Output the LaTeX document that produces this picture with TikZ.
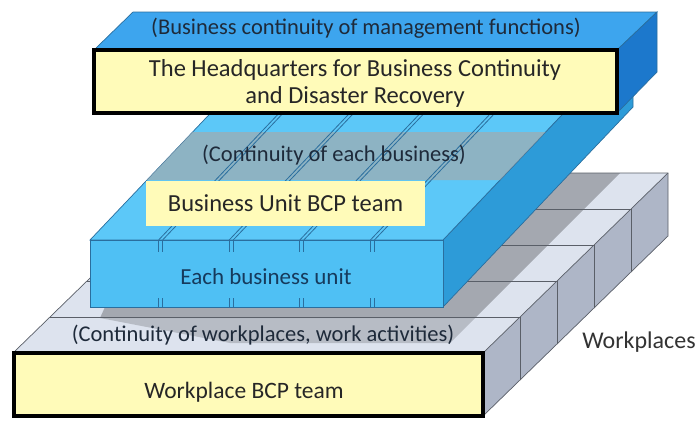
\documentclass[tikz,border=0pt]{standalone}
\usepackage{fontspec}
\setmainfont{Carlito}
\definecolor{hqTop}{HTML}{3DA5EE}
\definecolor{hqSide}{HTML}{1C78CC}
\definecolor{midTop}{HTML}{5CC8F8}
\definecolor{midFront}{HTML}{4FC0F4}
\definecolor{midSide}{HTML}{2D9BD8}
\definecolor{midLine}{HTML}{2A6E9E}
\definecolor{wpTop}{HTML}{DDE3EE}
\definecolor{wpSide}{HTML}{AEB6C7}
\definecolor{wpLine}{HTML}{5A5F68}
\definecolor{yel}{HTML}{FFFBB9}
\definecolor{band}{HTML}{A8A8A8}
\definecolor{txtDark}{HTML}{1E2A3A}
\definecolor{txtBlue}{HTML}{163A5C}
\begin{document}
\begin{tikzpicture}[x=1pt,y=-1pt,
  paren/.style={font=\fontsize{22.5}{27}\selectfont, text=txtDark, inner sep=0pt},
  mainlbl/.style={font=\fontsize{24.5}{27}\selectfont, text=black!85, inner sep=0pt, align=center},
  thinmid/.style={draw=midLine, line width=0.7pt},
  thinwp/.style={draw=wpLine, line width=0.7pt},
  groove/.style={draw=midLine, line width=0.8pt}]
\useasboundingbox (0,0) rectangle (699,421);

% ---------- workplaces (bottom) ----------
\fill[wpTop] (13,353) -- (483,353) -- (668,173) -- (198,173) -- cycle;
\fill[wpSide] (483,353) -- (668,173) -- (668,236) -- (483,416) -- cycle;
% shadow of the business-unit slab
\fill[black, opacity=0.17] (105,307) -- (100,318) -- (230,343) -- (450,343) -- (620,173) -- (300,173) -- cycle;
\fill[black, opacity=0.10] (105,307) -- (100,318) -- (475,318) -- (620,173) -- (300,173) -- cycle;
% block lines
\foreach \k in {0,1,2,3} {
  \draw[thinwp] ({50+37*\k},{317-36*\k}) -- ({520+37*\k},{317-36*\k});
  \draw[thinwp] ({520+37*\k},{317-36*\k}) -- ({520+37*\k},{380-36*\k});
}
\draw[thinwp] (13,353) -- (198,173) -- (668,173) -- (668,236) -- (483,416);
\draw[thinwp] (483,353) -- (668,173);
\node[paren] (wpcont) at (263,335) {(Continuity of workplaces, work activities)};
\draw[line width=3.5pt, fill=yel] (14,353) rectangle (483,416);
\node[font=\fontsize{23.5}{27}\selectfont, text=black!85, inner sep=0pt] (wpteam) at (244,392) {Workplace BCP team};
\node[font=\fontsize{24}{27}\selectfont, text=black!80, inner sep=0pt] (wplaces) at (639,342) {Workplaces};

% ---------- business unit slab (middle) ----------
\filldraw[fill=midSide, thinmid] (443,240) -- (633,40) -- (633,107) -- (443,307) -- cycle;
\filldraw[fill=midTop, thinmid] (90,240) -- (443,240) -- (633,40) -- (280,40) -- cycle;
\fill[band, opacity=0.65] (147,180) -- (500,180) -- (545.6,132) -- (192.6,132) -- cycle;
\foreach \x in {160.6,231.2,301.8,372.4} {
  \draw[groove] ({\x-2},240) -- ({\x-2+0.95*140},100);
  \draw[groove] ({\x+2},240) -- ({\x+2+0.95*140},100);
}
\filldraw[fill=midFront, thinmid] (90,240) rectangle (443,307);
\foreach \x in {160.6,231.2,301.8,372.4} {
  \draw[groove] ({\x-2},240) -- ({\x-2},252);
  \draw[groove] ({\x+2},240) -- ({\x+2},252);
  \draw[groove] ({\x-2},298) -- ({\x-2},307);
  \draw[groove] ({\x+2},298) -- ({\x+2},307);
}
\node[paren] (bucont) at (334,155) {(Continuity of each business)};
\node[fill=yel, minimum width=279pt, minimum height=45pt, inner sep=0pt,
      font=\fontsize{24.5}{27}\selectfont, text=black!85] (buteam) at (285.5,203.5) {Business Unit BCP team};
\node[font=\fontsize{23}{27}\selectfont, text=txtBlue, inner sep=0pt] (eachbu) at (266,277) {Each business unit};

% ---------- headquarters slab (top) ----------
\filldraw[fill=hqTop, draw=midLine, line width=0.7pt] (94,50) -- (617,50) -- (657,12) -- (133,12) -- cycle;
\filldraw[fill=hqSide, draw=midLine, line width=0.7pt] (617,50) -- (657,12) -- (657,72) -- (617,113) -- cycle;
\draw[line width=3.5pt, fill=yel] (94,50) rectangle (617,113);
\node[paren] (hqcont) at (366,28) {(Business continuity of management functions)};
\node[mainlbl] (hq1) at (355,70) {The Headquarters for Business Continuity};
\node[mainlbl] (hq2) at (355,97) {and Disaster Recovery};
\end{tikzpicture}
\end{document}
